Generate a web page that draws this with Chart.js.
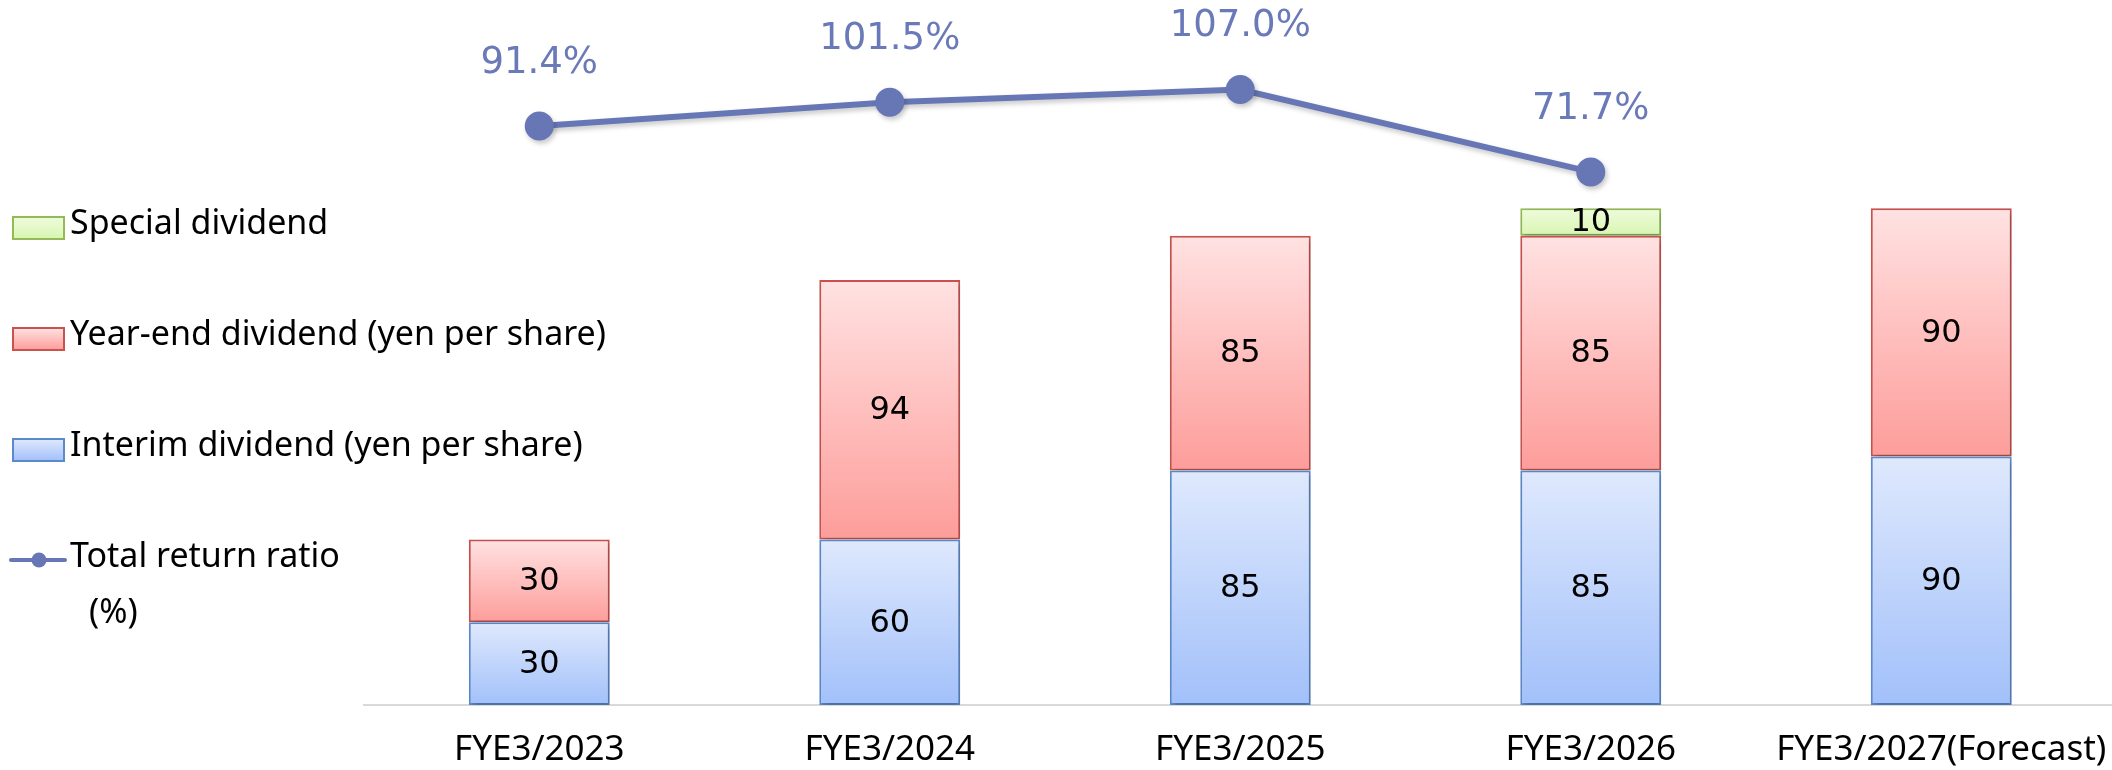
<!DOCTYPE html>
<html><head><meta charset="utf-8">
<script src="https://cdn.jsdelivr.net/npm/chart.js@4.4.1/dist/chart.umd.min.js"></script>
<style>
html,body{margin:0;padding:0;background:#fff;overflow:hidden;width:2112px;height:770px;}
#wrap{position:absolute;left:0;top:0;width:2131px;height:770px;}
</style></head><body>
<div id="wrap"><canvas id="c" width="2131" height="770"></canvas></div>
<script>
const categories = ['FYE3/2023', 'FYE3/2024', 'FYE3/2025', 'FYE3/2026', 'FYE3/2027(Forecast)'];
const interimDividend = [30, 60, 85, 85, 90];
const yearEndDividend = [30, 94, 85, 85, 90];
const specialDividend = [null, null, null, 10, null];
const totalReturnRatio = [91.4, 101.5, 107.0, 71.7, null];
const legendLabels = ['Special dividend', 'Year-end dividend (yen per share)', 'Interim dividend (yen per share)', 'Total return ratio', '(%)'];

const stackSeries = [interimDividend, yearEndDividend, specialDividend];
const palette = {
  interim: {top: '#dfe9fd', bottom: '#a2c0fa', border: '#5a8acc'},
  yearEnd: {top: '#ffe2e2', bottom: '#fd9d9a', border: '#c9514e'},
  special: {top: '#effcdc', bottom: '#d8f5b2', border: '#93bb55'},
  line: '#6777b6'
};

function gradFill(dsIndex, colors) {
  return (ctx) => {
    const chart = ctx.chart;
    const ys = chart.scales.y;
    if (ctx.type !== 'data' || !ys) return colors.bottom;
    const i = ctx.dataIndex;
    let base = 0;
    for (let k = 0; k < dsIndex; k++) base += (stackSeries[k][i] || 0);
    const v = stackSeries[dsIndex][i] || 0;
    const y0 = ys.getPixelForValue(base + v), y1 = ys.getPixelForValue(base);
    if (!isFinite(y0) || !isFinite(y1) || y0 === y1) return colors.bottom;
    const g = chart.ctx.createLinearGradient(0, y0, 0, y1);
    g.addColorStop(0, colors.top);
    g.addColorStop(1, colors.bottom);
    return g;
  };
}

const shadowPlugin = {
  id: 'shadow',
  beforeDatasetDraw(chart, args) {
    const c = chart.ctx;
    c.save();
    c.shadowColor = 'rgba(0,0,0,0.22)';
    c.shadowBlur = 5;
    c.shadowOffsetX = 2;
    c.shadowOffsetY = 3;
  },
  afterDatasetDraw(chart) { chart.ctx.restore(); }
};

const labelPlugin = {
  id: 'labels',
  afterDatasetsDraw(chart) {
    const c = chart.ctx;
    c.save();
    c.textAlign = 'center';
    c.textBaseline = 'middle';
    chart.data.datasets.forEach((ds, di) => {
      const meta = chart.getDatasetMeta(di);
      meta.data.forEach((el, i) => {
        const v = ds.data[i];
        if (v === null || v === undefined) return;
        if (ds.type === 'line') {
          c.font = '37px "DejaVu Sans"';
          c.fillStyle = '#6a79b8';
          c.fillText(v.toFixed(1) + '%', el.x, el.y - 63);
        } else {
          c.font = '32px "DejaVu Sans"';
          c.fillStyle = '#000';
          c.fillText(String(v), el.x, (el.y + el.base) / 2 + 1);
        }
      });
    });
    c.restore();
  }
};

const legendPlugin = {
  id: 'sideLegend',
  afterDraw(chart) {
    const c = chart.ctx;
    c.save();
    const items = [
      {label: legendLabels[0], col: palette.special},
      {label: legendLabels[1], col: palette.yearEnd},
      {label: legendLabels[2], col: palette.interim},
      {label: legendLabels[3], line: true}
    ];
    items.forEach((it, k) => {
      const base = 234 + k * 111;
      if (it.line) {
        c.strokeStyle = palette.line;
        c.lineWidth = 4;
        c.lineCap = 'round';
        c.beginPath(); c.moveTo(11, base - 7); c.lineTo(65, base - 7); c.stroke();
        c.fillStyle = palette.line;
        c.beginPath(); c.arc(39, base - 7, 7.5, 0, Math.PI * 2); c.fill();
      } else {
        const y = base - 17;
        const g = c.createLinearGradient(0, y, 0, y + 22);
        g.addColorStop(0, it.col.top); g.addColorStop(1, it.col.bottom);
        c.fillStyle = g;
        c.fillRect(13, y, 51, 22);
        c.strokeStyle = it.col.border;
        c.lineWidth = 2;
        c.strokeRect(13, y, 51, 22);
      }
      c.fillStyle = '#000';
      c.font = '34px "Noto Sans"';
      c.textAlign = 'left';
      c.textBaseline = 'alphabetic';
      c.fillText(it.label, 70, base);
    });
    c.fillText(legendLabels[4], 89, 623);
    c.restore();
  }
};

new Chart(document.getElementById('c'), {
  data: {
    labels: categories,
    datasets: [
      {type: 'bar', label: 'Interim dividend (yen per share)', data: interimDividend, yAxisID: 'y', order: 1,
       backgroundColor: gradFill(0, palette.interim), borderColor: palette.interim.border},
      {type: 'bar', label: 'Year-end dividend (yen per share)', data: yearEndDividend, yAxisID: 'y', order: 1,
       backgroundColor: gradFill(1, palette.yearEnd), borderColor: palette.yearEnd.border},
      {type: 'bar', label: 'Special dividend', data: specialDividend, yAxisID: 'y', order: 1,
       backgroundColor: gradFill(2, palette.special), borderColor: palette.special.border},
      {type: 'line', label: 'Total return ratio', data: totalReturnRatio, yAxisID: 'y2', order: 0,
       borderColor: palette.line, backgroundColor: palette.line, borderWidth: 6, tension: 0,
       pointRadius: 14.5, pointBackgroundColor: palette.line, pointBorderWidth: 0, spanGaps: false, fill: false}
    ]
  },
  options: {
    responsive: false,
    devicePixelRatio: 1,
    animation: false,
    events: [],
    layout: {padding: {left: 364, right: 0, top: 15, bottom: 0}},
    datasets: {bar: {categoryPercentage: 1, barPercentage: 0.402, borderWidth: 2, borderSkipped: false}},
    scales: {
      x: {
        stacked: true,
        grid: {display: false, drawTicks: false},
        border: {display: true, color: '#d9d9d9', width: 2},
        ticks: {color: '#000', font: {family: '"Noto Sans"', size: 35}, padding: 24, maxRotation: 0, autoSkip: false},
        afterFit(s) { s.height = 65; s.paddingLeft = 0; s.paddingRight = 0; }
      },
      y: {stacked: true, display: false, min: 0, max: 250},
      y2: {display: false, min: -156.6, max: 138.9}
    },
    plugins: {legend: {display: false}, tooltip: {enabled: false}}
  },
  plugins: [shadowPlugin, labelPlugin, legendPlugin]
});
</script>
</body></html>
